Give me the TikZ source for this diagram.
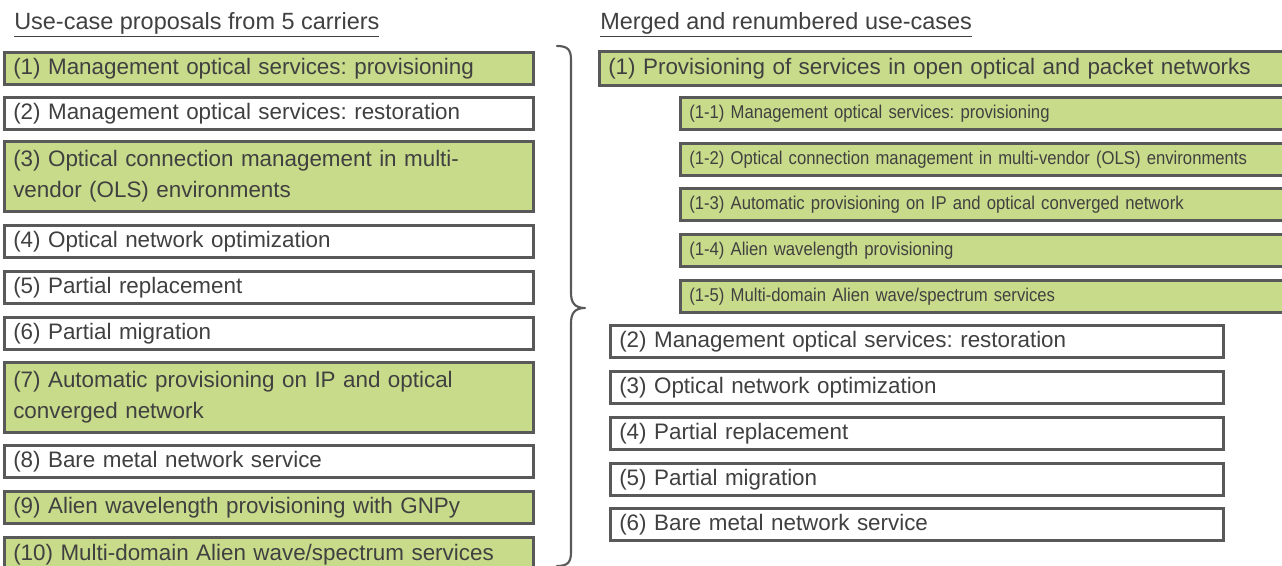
\documentclass[tikz,border=0pt]{standalone}
\usepackage{fontspec}
\setmainfont{Liberation Sans}
\newfontfamily\condfont[FakeStretch=0.9]{Liberation Sans}
\frenchspacing
\definecolor{gfill}{RGB}{200,219,138}
\definecolor{bord}{RGB}{89,89,89}
\definecolor{txtc}{RGB}{64,64,64}
\begin{document}
\frenchspacing
\begin{tikzpicture}[x=0.75pt,y=-0.75pt,
  box/.style={draw=bord, line width=1.9pt, anchor=north west, inner xsep=6.75pt, inner ysep=0pt,
    align=left, text=txtc, minimum height=24pt, font=\frenchspacing\fontsize{16.8}{23.25}\selectfont},
  gbox/.style={box, fill=gfill},
  wbox/.style={box, fill=white},
  lcol/.style={text width=383.25pt},
  bigcol/.style={text width=505.5pt, minimum height=25.5pt},
  subcol/.style={text width=444.75pt, font=\frenchspacing\condfont\fontsize{13.9}{16}\selectfont},
  lowcol/.style={text width=446.25pt},
  twoline/.style={minimum height=52.5pt},
  title/.style={anchor=west, inner sep=0pt, text=txtc, font=\fontsize{17.6}{20}\selectfont},
  brace/.style={draw=bord, line width=1.6pt, line cap=round, line join=round}]
\useasboundingbox (0,0) rectangle (1282,565);
\clip (0,0) rectangle (1282,565);
\fill[white] (0,0) rectangle (1282,565);
% titles
\node[title] (tl) at (14,25) {\underline{Use-case proposals from 5 carriers}};
\node[title] (tr) at (600,25) {\underline{Merged and renumbered use-cases}};
% left column
\node[gbox,lcol] (l1) at (3,51) {(1) Management optical services: provisioning};
\node[wbox,lcol] (l2) at (3,96) {(2) Management optical services: restoration};
\node[gbox,lcol,twoline] (l3) at (3,140) {(3) Optical connection management in multi-\\vendor (OLS) environments};
\node[wbox,lcol] (l4) at (3,224) {(4) Optical network optimization};
\node[wbox,lcol] (l5) at (3,270) {(5) Partial replacement};
\node[wbox,lcol] (l6) at (3,316) {(6) Partial migration};
\node[gbox,lcol,twoline] (l7) at (3,361) {(7) Automatic provisioning on IP and optical\\converged network};
\node[wbox,lcol] (l8) at (3,444) {(8) Bare metal network service};
\node[gbox,lcol] (l9) at (3,490) {(9) Alien wavelength provisioning with GNPy};
\node[gbox,lcol,minimum height=25.5pt] (l10) at (3,536) {(10) Multi-domain Alien wave/spectrum services};
% brace
\coordinate (bt) at (557,46);
\coordinate (bm) at (585,308);
\coordinate (bb) at (557,566);
\draw[brace] (bt) .. controls (568,46) and (571,50) .. (571,60) -- (571,293)
  .. controls (571,303) and (575,308) .. (bm)
  .. controls (575,308) and (571,313) .. (571,323) -- (571,552)
  .. controls (571,562) and (568,566) .. (bb);
% right column
\node[gbox,bigcol] (r1) at (598,50) {(1) Provisioning of services in open optical and packet networks};
\node[gbox,subcol] (s1) at (679,96) {(1-1) Management optical services: provisioning};
\node[gbox,subcol] (s2) at (679,142) {(1-2) Optical connection management in multi-vendor (OLS) environments};
\node[gbox,subcol] (s3) at (679,187) {(1-3) Automatic provisioning on IP and optical converged network};
\node[gbox,subcol] (s4) at (679,233) {(1-4) Alien wavelength provisioning};
\node[gbox,subcol] (s5) at (679,279) {(1-5) Multi-domain Alien wave/spectrum services};
\node[wbox,lowcol] (r2) at (609,324) {(2) Management optical services: restoration};
\node[wbox,lowcol] (r3) at (609,370) {(3) Optical network optimization};
\node[wbox,lowcol] (r4) at (609,416) {(4) Partial replacement};
\node[wbox,lowcol] (r5) at (609,462) {(5) Partial migration};
\node[wbox,lowcol] (r6) at (609,507) {(6) Bare metal network service};
\end{tikzpicture}
\end{document}
